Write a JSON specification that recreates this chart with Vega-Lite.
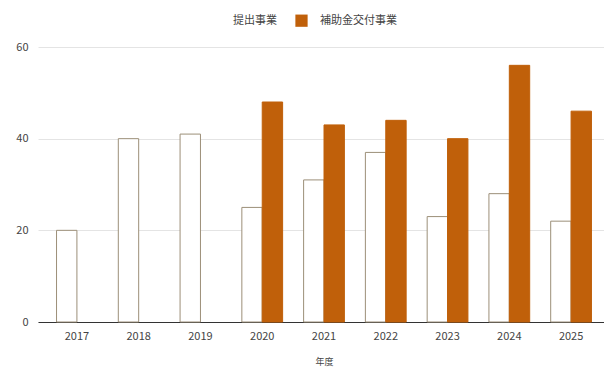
{
  "$schema": "https://vega.github.io/schema/vega-lite/v6.json",
  "autosize": "none",
  "width": 566,
  "height": 275,
  "padding": {"left": 38, "top": 47, "right": 0, "bottom": 48},
  "background": "#ffffff",
  "config": {
    "font": "Noto Sans CJK JP",
    "view": {"stroke": null},
    "axis": {"labelFont": "Noto Sans CJK JP", "titleFont": "Noto Sans CJK JP"},
    "legend": {"labelFont": "Noto Sans CJK JP"}
  },
  "data": {
    "values": [
      {"year": "2017", "series": "提出事業", "value": 20},
      {"year": "2018", "series": "提出事業", "value": 40},
      {"year": "2019", "series": "提出事業", "value": 41},
      {"year": "2020", "series": "提出事業", "value": 25},
      {"year": "2020", "series": "補助金交付事業", "value": 48},
      {"year": "2021", "series": "提出事業", "value": 31},
      {"year": "2021", "series": "補助金交付事業", "value": 43},
      {"year": "2022", "series": "提出事業", "value": 37},
      {"year": "2022", "series": "補助金交付事業", "value": 44},
      {"year": "2023", "series": "提出事業", "value": 23},
      {"year": "2023", "series": "補助金交付事業", "value": 40},
      {"year": "2024", "series": "提出事業", "value": 28},
      {"year": "2024", "series": "補助金交付事業", "value": 56},
      {"year": "2025", "series": "提出事業", "value": 22},
      {"year": "2025", "series": "補助金交付事業", "value": 46}
    ]
  },
  "mark": {"type": "bar", "strokeWidth": 1},
  "encoding": {
    "x": {
      "field": "year",
      "type": "nominal",
      "title": "年度",
      "scale": {"range": [0, 572], "paddingInner": 0.34, "paddingOuter": 0.3},
      "axis": {
        "labelAngle": 0,
        "labelFontSize": 11,
        "labelColor": "#444444",
        "labelPadding": 8,
        "ticks": false,
        "domainColor": "#333333",
        "domainWidth": 1,
        "titleFontSize": 9,
        "titleFontWeight": "normal",
        "titleColor": "#444444",
        "titlePadding": 16,
        "grid": false
      }
    },
    "xOffset": {
      "field": "series",
      "type": "nominal",
      "scale": {"domain": ["提出事業", "補助金交付事業"], "paddingInner": 0, "paddingOuter": 0}
    },
    "y": {
      "field": "value",
      "type": "quantitative",
      "title": null,
      "scale": {"domain": [0, 60], "nice": false},
      "axis": {
        "values": [0, 20, 40, 60],
        "labelFontSize": 11,
        "labelColor": "#444444",
        "labelPadding": 10,
        "ticks": false,
        "domain": false,
        "gridColor": "#e4e4e4",
        "gridWidth": 1
      }
    },
    "fill": {
      "field": "series",
      "type": "nominal",
      "scale": {"domain": ["提出事業", "補助金交付事業"], "range": ["#ffffff", "#c0600a"]},
      "legend": {
        "title": null,
        "orient": "none",
        "direction": "horizontal",
        "legendX": 170,
        "legendY": -33,
        "padding": 0,
        "symbolType": "square",
        "symbolSize": 150,
        "symbolStrokeWidth": 0,
        "labelFontSize": 11,
        "labelColor": "#444444",
        "labelOffset": 12,
        "columnPadding": 18
      }
    },
    "stroke": {
      "field": "series",
      "type": "nominal",
      "scale": {"domain": ["提出事業", "補助金交付事業"], "range": ["#9c8f78", "#c0600a"]},
      "legend": null
    }
  }
}
